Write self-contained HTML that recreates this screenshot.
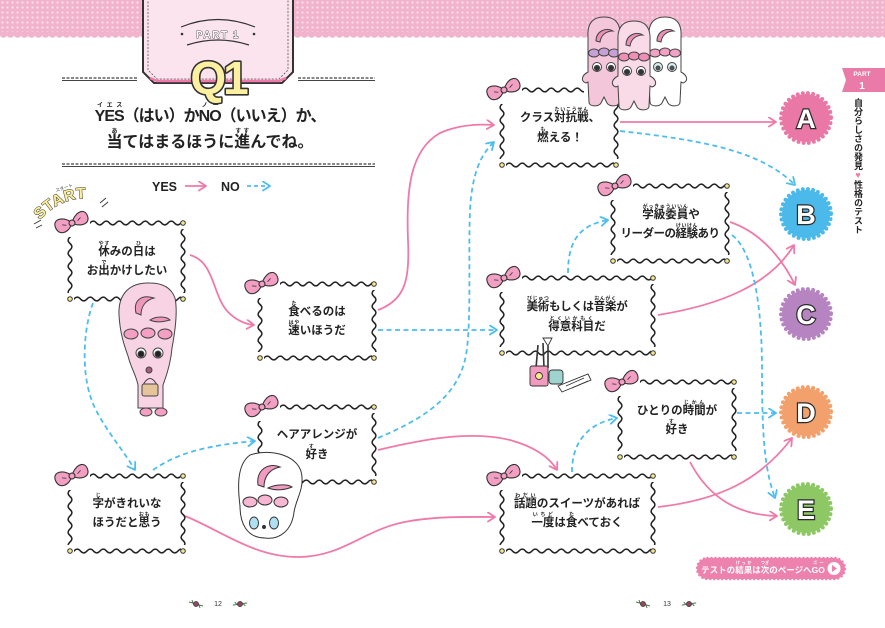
<!DOCTYPE html>
<html><head><meta charset="utf-8">
<style>
html,body{margin:0;padding:0;background:#fff;}
#c{position:relative;width:885px;height:628px;overflow:hidden;background:#fff;}
svg{position:absolute;left:0;top:0;}
.t{position:absolute;width:200px;height:24px;text-align:center;font-weight:bold;font-size:11.5px;line-height:24px;font-family:"Liberation Sans","Noto Sans CJK JP",sans-serif;color:#222;white-space:nowrap;}
rt{font-size:5px;line-height:1;font-weight:bold;}
.ttl{position:absolute;left:40px;width:340px;height:28px;text-align:center;font-weight:bold;font-size:16px;line-height:28px;font-family:"Liberation Sans","Noto Sans CJK JP",sans-serif;color:#222;white-space:nowrap;}
.ttl rt{font-size:6px;}
.side{position:absolute;left:850px;top:98px;width:16px;writing-mode:vertical-rl;font-weight:bold;font-size:9px;line-height:16px;font-family:"Liberation Sans","Noto Sans CJK JP",sans-serif;color:#222;white-space:nowrap;}
.go{position:absolute;left:699px;top:560px;width:128px;height:18px;text-align:center;font-weight:bold;font-size:8.5px;line-height:18px;font-family:"Liberation Sans","Noto Sans CJK JP",sans-serif;color:#fff;white-space:nowrap;}
.go rt{font-size:4px;}
</style></head><body><div id="c">
<svg width="885" height="628" viewBox="0 0 885 628" xmlns="http://www.w3.org/2000/svg" font-family="Liberation Sans, Noto Sans CJK JP, sans-serif">
<defs>
<pattern id="dots" width="5" height="5" patternUnits="userSpaceOnUse"><rect width="5" height="5" fill="#f2b3cc"/><circle cx="2.5" cy="2.5" r="1.1" fill="#fbe2ec"/></pattern>
<pattern id="scal" width="7" height="8" patternUnits="userSpaceOnUse"><circle cx="3.5" cy="2" r="3.8" fill="#f2b3cc"/></pattern>
<pattern id="wh" width="13" height="10" patternUnits="userSpaceOnUse"><path d="M-6.5 5 Q-3.25 8.8 0 5 Q3.25 1.2 6.5 5 Q9.75 8.8 13 5 Q16.25 1.2 19.5 5" fill="none" stroke="#222" stroke-width="1.5"/></pattern>
<pattern id="wv" width="10" height="13" patternUnits="userSpaceOnUse"><path d="M5 -6.5 Q8.8 -3.25 5 0 Q1.2 3.25 5 6.5 Q8.8 9.75 5 13 Q1.2 16.25 5 19.5" fill="none" stroke="#222" stroke-width="1.5"/></pattern>
<marker id="ap" markerWidth="12" markerHeight="12" refX="8" refY="5" orient="auto" markerUnits="userSpaceOnUse"><path d="M1 0.5 L8 5 L1 9.5" fill="none" stroke="#ef7aa9" stroke-width="1.8" stroke-linecap="round" stroke-linejoin="round"/></marker>
<marker id="ab" markerWidth="12" markerHeight="12" refX="8" refY="5" orient="auto" markerUnits="userSpaceOnUse"><path d="M1 0.5 L8 5 L1 9.5" fill="none" stroke="#4dbdec" stroke-width="1.8" stroke-linecap="round" stroke-linejoin="round"/></marker>
<g id="bow" transform="rotate(-22)">
<path d="M0 0 C-4 -9 -17 -12 -17 -2 C-17 8 -6 8 0 0 Z" fill="#f39ec3" stroke="#333" stroke-width="1.1"/>
<path d="M0 0 C5 -8 17 -11 17 -1 C17 8 6 7 0 0 Z" fill="#f39ec3" stroke="#333" stroke-width="1.1"/>
<path d="M-10 -2 L-6 0 M10 -2 L6 0" stroke="#333" stroke-width="0.8"/>
<circle r="3" fill="#f39ec3" stroke="#333" stroke-width="1.1"/>
</g>
<g id="rose"><path d="M-7 -2 L7 2 M-4 -4 L-3 -1 M4 4 L3 1" stroke="#4a7a4a" stroke-width="1"/><circle r="2.6" fill="#8b4a62" stroke="#3a2a2a" stroke-width="0.6"/></g>
</defs>

<!-- header band -->
<rect x="0" y="0" width="885" height="33" fill="url(#dots)"/>
<rect x="0" y="31" width="885" height="8" fill="url(#scal)"/>

<!-- PART panel -->
<path d="M143 -2 L143 72 L154 83 L282 83 L293 72 L293 -2 Z" fill="#fbe4ee" stroke="#333" stroke-width="2"/>
<path d="M148 -2 L148 70 L157 79 L279 79 L288 70 L288 -2" fill="none" stroke="#555" stroke-width="0.8" stroke-dasharray="2 1.5"/>
<path d="M150 78 L157 81 L279 81 L286 78" fill="none" stroke="#ef7aa9" stroke-width="2.5"/>
<path d="M181 27 Q218 12 255 27" fill="none" stroke="#333" stroke-width="1.2"/>
<path d="M187 45 Q218 35 249 45" fill="none" stroke="#333" stroke-width="1.2"/>
<circle cx="182" cy="34" r="1.3" fill="#333"/><circle cx="254" cy="34" r="1.3" fill="#333"/>
<text x="218" y="38" text-anchor="middle" font-size="10" font-weight="bold" fill="#fff" stroke="#333" stroke-width="0.8" letter-spacing="1.5" paint-order="stroke">PART 1</text>
<text x="218" y="94" text-anchor="middle" font-size="46" font-weight="bold" fill="#fdf0a0" stroke="#333" stroke-width="3.2" stroke-linejoin="round" paint-order="stroke" letter-spacing="-3">Q1</text>

<!-- separators -->
<g stroke-width="2">
<line x1="62" y1="78" x2="137" y2="78" stroke="#888" stroke-dasharray="3 1.5"/>
<line x1="298" y1="78" x2="375" y2="78" stroke="#888" stroke-dasharray="3 1.5"/>
<line x1="62" y1="164" x2="375" y2="164" stroke="#888" stroke-dasharray="3 1.5"/>
</g>
<g stroke-width="0.9" stroke="#444">
<line x1="62" y1="80.5" x2="137" y2="80.5"/><line x1="298" y1="80.5" x2="375" y2="80.5"/><line x1="62" y1="166.5" x2="375" y2="166.5"/>
</g>

<!-- legend -->
<text x="152" y="191" font-size="12.5" font-weight="bold" fill="#222">YES</text>
<path d="M185 186 L206 186" stroke="#ef7aa9" stroke-width="1.8" marker-end="url(#ap)"/>
<text x="221" y="191" font-size="12.5" font-weight="bold" fill="#222">NO</text>
<path d="M247 186 L270 186" stroke="#4dbdec" stroke-width="1.8" stroke-dasharray="4 3" marker-end="url(#ab)"/>

<!-- START -->
<path id="sarc" d="M40 220 Q64 192 104 200" fill="none"/>
<text font-size="15.5" font-weight="bold" fill="#fbee96" stroke="#333" stroke-width="1" paint-order="stroke" letter-spacing="0.5"><textPath href="#sarc">START</textPath></text>
<text x="56" y="192" font-size="4.5" fill="#333" transform="rotate(-18 56 192)">スタート</text>
<path d="M34 224 L41 220 M36 228 L42 225 M100 203 L106 198 M102 207 L108 202" stroke="#333" stroke-width="0.9"/>

<!-- YES connectors -->
<g fill="none" stroke="#ef7aa9" stroke-width="1.8" marker-end="url(#ap)">
<path d="M190 255 C215 262 212 295 228 312 C236 320 244 324 254 325"/>
<path d="M378 310 C405 300 410 280 408 240 C406 190 410 150 440 133 C460 124 480 124 494 125"/>
<path d="M378 450 C420 440 470 430 510 440 C535 447 550 458 557 470"/>
<path d="M185 516 C220 530 255 558 300 557 C345 556 365 528 410 521 C440 516 470 517 495 517"/>
<path d="M620 122 L776 122"/>
<path d="M730 222 C760 232 782 258 795 285"/>
<path d="M658 315 C720 305 770 285 794 245"/>
<path d="M690 462 C710 500 740 515 777 516"/>
<path d="M658 507 C720 500 760 480 792 438"/>
</g>
<!-- NO connectors -->
<g fill="none" stroke="#4dbdec" stroke-width="1.8" stroke-dasharray="5 3.5" marker-end="url(#ab)">
<path d="M93 303 C83 330 82 370 90 395 C97 420 120 445 135 470"/>
<path d="M153 470 C175 455 200 446 255 441"/>
<path d="M378 330 L497 330"/>
<path d="M378 438 C420 420 455 400 465 360 C472 330 468 260 470 210 C472 175 480 155 494 142"/>
<path d="M620 131 C700 140 760 150 795 185"/>
<path d="M732 235 C752 250 762 300 762 370 C762 440 765 470 775 498"/>
<path d="M568 273 C568 240 580 225 608 220"/>
<path d="M737 413 L776 413"/>
<path d="M572 472 C572 440 590 423 617 418"/>
</g>

<!-- boxes -->
<g transform="translate(70,223)">
<rect x="2" y="2" width="109" height="72" fill="#fff"/>
<g transform="translate(20,-5)"><rect width="91" height="10" fill="url(#wh)"/></g>
<g transform="translate(4,71)"><rect width="107" height="10" fill="url(#wh)"/></g>
<g transform="translate(-5,14)"><rect width="10" height="56" fill="url(#wv)"/></g>
<g transform="translate(108,6)"><rect width="10" height="64" fill="url(#wv)"/></g>
<g fill="#f7ea8c" stroke="#333" stroke-width="1"><circle cx="113" cy="0" r="2.3"/><circle cx="0" cy="76" r="2.3"/><circle cx="113" cy="76" r="2.3"/></g>
<use href="#bow" x="2" y="0"/>
</g>
<g transform="translate(260,284)">
<rect x="2" y="2" width="110" height="70" fill="#fff"/>
<g transform="translate(20,-5)"><rect width="92" height="10" fill="url(#wh)"/></g>
<g transform="translate(4,69)"><rect width="108" height="10" fill="url(#wh)"/></g>
<g transform="translate(-5,14)"><rect width="10" height="54" fill="url(#wv)"/></g>
<g transform="translate(109,6)"><rect width="10" height="62" fill="url(#wv)"/></g>
<g fill="#f7ea8c" stroke="#333" stroke-width="1"><circle cx="114" cy="0" r="2.3"/><circle cx="0" cy="74" r="2.3"/><circle cx="114" cy="74" r="2.3"/></g>
<use href="#bow" x="2" y="0"/>
</g>
<g transform="translate(260,407)">
<rect x="2" y="2" width="110" height="71" fill="#fff"/>
<g transform="translate(20,-5)"><rect width="92" height="10" fill="url(#wh)"/></g>
<g transform="translate(4,70)"><rect width="108" height="10" fill="url(#wh)"/></g>
<g transform="translate(-5,14)"><rect width="10" height="55" fill="url(#wv)"/></g>
<g transform="translate(109,6)"><rect width="10" height="63" fill="url(#wv)"/></g>
<g fill="#f7ea8c" stroke="#333" stroke-width="1"><circle cx="114" cy="0" r="2.3"/><circle cx="114" cy="75" r="2.3"/></g>
<use href="#bow" x="2" y="0"/>
</g>
<g transform="translate(70,476)">
<rect x="2" y="2" width="109" height="71" fill="#fff"/>
<g transform="translate(20,-5)"><rect width="91" height="10" fill="url(#wh)"/></g>
<g transform="translate(4,70)"><rect width="107" height="10" fill="url(#wh)"/></g>
<g transform="translate(-5,14)"><rect width="10" height="55" fill="url(#wv)"/></g>
<g transform="translate(108,6)"><rect width="10" height="63" fill="url(#wv)"/></g>
<g fill="#f7ea8c" stroke="#333" stroke-width="1"><circle cx="113" cy="0" r="2.3"/><circle cx="0" cy="75" r="2.3"/><circle cx="113" cy="75" r="2.3"/></g>
<use href="#bow" x="2" y="0"/>
</g>
<g transform="translate(502,90)">
<rect x="2" y="2" width="110" height="71" fill="#fff"/>
<g transform="translate(20,-5)"><rect width="62" height="10" fill="url(#wh)"/></g>
<g transform="translate(4,70)"><rect width="108" height="10" fill="url(#wh)"/></g>
<g transform="translate(-5,14)"><rect width="10" height="55" fill="url(#wv)"/></g>
<g transform="translate(109,6)"><rect width="10" height="63" fill="url(#wv)"/></g>
<g fill="#f7ea8c" stroke="#333" stroke-width="1"><circle cx="0" cy="75" r="2.3"/><circle cx="114" cy="75" r="2.3"/></g>
<use href="#bow" x="2" y="0"/>
</g>
<g transform="translate(613,186)">
<rect x="2" y="2" width="110" height="71" fill="#fff"/>
<g transform="translate(20,-5)"><rect width="92" height="10" fill="url(#wh)"/></g>
<g transform="translate(4,70)"><rect width="108" height="10" fill="url(#wh)"/></g>
<g transform="translate(-5,14)"><rect width="10" height="55" fill="url(#wv)"/></g>
<g transform="translate(109,6)"><rect width="10" height="63" fill="url(#wv)"/></g>
<g fill="#f7ea8c" stroke="#333" stroke-width="1"><circle cx="114" cy="0" r="2.3"/><circle cx="0" cy="75" r="2.3"/><circle cx="114" cy="75" r="2.3"/></g>
<use href="#bow" x="2" y="0"/>
</g>
<g transform="translate(502,278)">
<rect x="2" y="2" width="147" height="71" fill="#fff"/>
<g transform="translate(20,-5)"><rect width="129" height="10" fill="url(#wh)"/></g>
<g transform="translate(4,70)"><rect width="145" height="10" fill="url(#wh)"/></g>
<g transform="translate(-5,14)"><rect width="10" height="55" fill="url(#wv)"/></g>
<g transform="translate(146,6)"><rect width="10" height="63" fill="url(#wv)"/></g>
<g fill="#f7ea8c" stroke="#333" stroke-width="1"><circle cx="151" cy="0" r="2.3"/><circle cx="0" cy="75" r="2.3"/><circle cx="151" cy="75" r="2.3"/></g>
<use href="#bow" x="2" y="0"/>
</g>
<g transform="translate(620,382)">
<rect x="2" y="2" width="110" height="71" fill="#fff"/>
<g transform="translate(20,-5)"><rect width="92" height="10" fill="url(#wh)"/></g>
<g transform="translate(4,70)"><rect width="108" height="10" fill="url(#wh)"/></g>
<g transform="translate(-5,14)"><rect width="10" height="55" fill="url(#wv)"/></g>
<g transform="translate(109,6)"><rect width="10" height="63" fill="url(#wv)"/></g>
<g fill="#f7ea8c" stroke="#333" stroke-width="1"><circle cx="114" cy="0" r="2.3"/><circle cx="0" cy="75" r="2.3"/><circle cx="114" cy="75" r="2.3"/></g>
<use href="#bow" x="2" y="0"/>
</g>
<g transform="translate(502,476)">
<rect x="2" y="2" width="147" height="71" fill="#fff"/>
<g transform="translate(20,-5)"><rect width="129" height="10" fill="url(#wh)"/></g>
<g transform="translate(4,70)"><rect width="145" height="10" fill="url(#wh)"/></g>
<g transform="translate(-5,14)"><rect width="10" height="55" fill="url(#wv)"/></g>
<g transform="translate(146,6)"><rect width="10" height="63" fill="url(#wv)"/></g>
<g fill="#f7ea8c" stroke="#333" stroke-width="1"><circle cx="151" cy="0" r="2.3"/><circle cx="0" cy="75" r="2.3"/><circle cx="151" cy="75" r="2.3"/></g>
<use href="#bow" x="2" y="0"/>
</g>

<!-- character 1 -->
<g stroke="#444" stroke-width="1">
<path d="M150 283 C128 282 118 296 119 315 C120 333 124 345 128 356 C131 368 136 375 138 385 L138 408 L163 408 L163 385 C168 372 171 360 172 348 C175 332 178 312 175 298 C171 287 162 283 150 283 Z" fill="#f8d3e3"/>
<path d="M136 313 C133 300 142 294 154 298 C146 300 141 306 141 315 Z" fill="#ef96bb"/>
<path d="M150 320 C156 316 166 316 170 320 C163 322 156 323 150 320 Z" fill="#ef96bb"/>
<ellipse cx="131" cy="334" rx="7" ry="5" fill="#f3a0c4"/>
<ellipse cx="148" cy="333" rx="7" ry="5" fill="#f3a0c4"/>
<ellipse cx="165" cy="334" rx="7" ry="5" fill="#f3a0c4"/>
<circle cx="141" cy="353" r="5" fill="#fff"/><circle cx="158" cy="353" r="5" fill="#fff"/>
<circle cx="141" cy="354" r="3" fill="#222"/><circle cx="158" cy="354" r="3" fill="#222"/>
<circle cx="149" cy="370" r="3" fill="#a0607a"/>
<path d="M143 385 Q150 372 157 385" fill="none"/>
<rect x="142" y="384" width="16" height="12" rx="2" fill="#e6c49a"/>
<ellipse cx="146" cy="412" rx="6" ry="4" fill="#f3a0c4"/>
<ellipse cx="161" cy="412" rx="6" ry="4" fill="#f3a0c4"/>
</g>

<!-- character 2 face -->
<g stroke="#333" stroke-width="1">
<path d="M250 455 C270 448 302 455 302 478 C303 490 296 500 294 512 C292 530 280 540 265 538 C246 538 240 522 240 506 C238 490 236 465 250 455 Z" fill="#fff"/>
<path d="M258 485 C256 470 268 462 280 467 C270 469 264 476 264 487 Z" fill="#f29ac0"/>
<path d="M268 488 C276 484 288 484 292 487 C285 490 276 491 268 488 Z" fill="#f29ac0"/>
<ellipse cx="250" cy="502" rx="7" ry="5" fill="#f7b6d1"/>
<ellipse cx="265" cy="500" rx="7" ry="5" fill="#f7b6d1"/>
<ellipse cx="281" cy="502" rx="7" ry="5" fill="#f7b6d1"/>
<ellipse cx="254" cy="523" rx="4.5" ry="6" fill="#aee0f2"/>
<ellipse cx="274" cy="523" rx="4.5" ry="6" fill="#aee0f2"/>
<circle cx="264" cy="527" r="1.5" fill="#333"/>
</g>

<!-- top characters -->
<g stroke="#444" stroke-width="1">
<g transform="translate(604,17)">
<path d="M-16 20 C-17 5 -10 0 0 0 C10 0 17 5 16 20 L16 55 C22 58 24 64 18 66 L16 65 L15 85 C15 90 5 90 3 86 L0 80 L-3 86 C-5 90 -15 90 -15 85 L-16 65 L-18 66 C-24 64 -22 58 -16 55 Z" fill="#f4c6da"/>
<path d="M-8 24 C-8 14 2 10 9 14 C2 14 -3 18 -4 25 Z" fill="#ee8fb6"/>
<ellipse cx="-10" cy="36" rx="5.5" ry="4" fill="#c8a0d8"/><ellipse cx="0" cy="35" rx="5.5" ry="4" fill="#c8a0d8"/><ellipse cx="10" cy="36" rx="5.5" ry="4" fill="#c8a0d8"/>
<circle cx="-7" cy="50" r="4.5" fill="#fff"/><circle cx="7" cy="50" r="4.5" fill="#fff"/><circle cx="-7" cy="51" r="2.6" fill="#333"/><circle cx="7" cy="51" r="2.6" fill="#333"/>
</g>
<g transform="translate(665,17)">
<path d="M-16 20 C-17 5 -10 0 0 0 C10 0 17 5 16 20 L16 55 C22 58 24 64 18 66 L16 65 L15 85 C15 90 5 90 3 86 L0 80 L-3 86 C-5 90 -15 90 -15 85 L-16 65 L-18 66 C-24 64 -22 58 -16 55 Z" fill="#fff"/>
<path d="M-8 24 C-8 14 2 10 9 14 C2 14 -3 18 -4 25 Z" fill="#ee8fb6"/>
<ellipse cx="-10" cy="36" rx="5.5" ry="4" fill="#f2a3c5"/><ellipse cx="0" cy="35" rx="5.5" ry="4" fill="#f2a3c5"/><ellipse cx="10" cy="36" rx="5.5" ry="4" fill="#f2a3c5"/>
<circle cx="-7" cy="50" r="4.5" fill="#d6eef2"/><circle cx="7" cy="50" r="4.5" fill="#d6eef2"/><circle cx="-7" cy="51" r="2" fill="#555"/><circle cx="7" cy="51" r="2" fill="#555"/>
</g>
<g transform="translate(634,21)">
<path d="M-16 20 C-17 5 -10 0 0 0 C10 0 17 5 16 20 L16 55 C22 58 24 64 18 66 L16 65 L15 85 C15 90 5 90 3 86 L0 80 L-3 86 C-5 90 -15 90 -15 85 L-16 65 L-18 66 C-24 64 -22 58 -16 55 Z" fill="#f8dbe7"/>
<path d="M-8 24 C-8 14 2 10 9 14 C2 14 -3 18 -4 25 Z" fill="#ee8fb6"/>
<ellipse cx="-10" cy="36" rx="5.5" ry="4" fill="#ef8fb7"/><ellipse cx="0" cy="35" rx="5.5" ry="4" fill="#ef8fb7"/><ellipse cx="10" cy="36" rx="5.5" ry="4" fill="#ef8fb7"/>
<circle cx="-7" cy="50" r="4.5" fill="#fff"/><circle cx="7" cy="50" r="4.5" fill="#fff"/><circle cx="-7" cy="51" r="2.6" fill="#333"/><circle cx="7" cy="51" r="2.6" fill="#333"/>
</g>
</g>

<!-- art supplies -->
<g stroke="#333" stroke-width="0.9">
<path d="M538 345 L536 368 M543 343 L544 368 M548 346 L548 368" stroke-width="1.6"/>
<path d="M548 346 L543 338 L552 338 Z" fill="#fff"/>
<rect x="530" y="366" width="18" height="20" rx="2" fill="#f29ac0"/>
<circle cx="539" cy="376" r="3.5" fill="#f7ea8c"/>
<rect x="549" y="370" width="14" height="14" rx="3" fill="#9fd3cf"/>
<path d="M558 386 L588 374 L591 380 L562 392 Z" fill="#fff"/>
<path d="M566 386 L584 378 M572 388 L588 381" stroke-width="0.8"/>
</g>

<!-- result circles -->
<g>
<circle cx="806" cy="118" r="24" fill="#ea78a6"/><circle cx="806" cy="118" r="25" fill="none" stroke="#ea78a6" stroke-width="4" stroke-dasharray="0 5.2" stroke-linecap="round"/>
<circle cx="806" cy="214" r="24" fill="#4bb9ea"/><circle cx="806" cy="214" r="25" fill="none" stroke="#4bb9ea" stroke-width="4" stroke-dasharray="0 5.2" stroke-linecap="round"/>
<circle cx="806" cy="314" r="24" fill="#b784c2"/><circle cx="806" cy="314" r="25" fill="none" stroke="#b784c2" stroke-width="4" stroke-dasharray="0 5.2" stroke-linecap="round"/>
<circle cx="806" cy="412" r="24" fill="#f2a06c"/><circle cx="806" cy="412" r="25" fill="none" stroke="#f2a06c" stroke-width="4" stroke-dasharray="0 5.2" stroke-linecap="round"/>
<circle cx="806" cy="509" r="24" fill="#8dc865"/><circle cx="806" cy="509" r="25" fill="none" stroke="#8dc865" stroke-width="4" stroke-dasharray="0 5.2" stroke-linecap="round"/>
</g>
<g font-size="27" font-weight="bold" fill="#fff" stroke="#2a2a2a" stroke-width="2.4" paint-order="stroke" text-anchor="middle">
<text x="806" y="128">A</text><text x="806" y="224">B</text><text x="806" y="324">C</text><text x="806" y="422">D</text><text x="806" y="519">E</text>
</g>

<!-- sidebar tab -->
<path d="M842 68 L885 68 L885 92 L842 92 L846 80 Z" fill="#ea7aa7"/>
<text x="862" y="76" text-anchor="middle" font-size="6.5" font-weight="bold" fill="#fff">PART</text>
<text x="862" y="89" text-anchor="middle" font-size="10" font-weight="bold" fill="#fff">1</text>

<!-- GO button -->
<rect x="697" y="558" width="148" height="21" rx="10.5" fill="#ec82ad"/>
<rect x="697" y="558" width="148" height="21" rx="10.5" fill="none" stroke="#ec82ad" stroke-width="2.5" stroke-dasharray="0 4" stroke-linecap="round"/>
<circle cx="834" cy="568.5" r="6.5" fill="#fff"/>
<path d="M832 565 L837 568.5 L832 572 Z" fill="#ec82ad"/>

<!-- page numbers -->
<text x="218" y="606" text-anchor="middle" font-size="7" fill="#333">12</text>
<text x="667" y="606" text-anchor="middle" font-size="7" fill="#333">13</text>
<use href="#rose" x="196" y="604"/><use href="#rose" x="240" y="604" transform="rotate(-25 240 604)"/>
<use href="#rose" x="643" y="604"/><use href="#rose" x="689" y="604" transform="rotate(-25 689 604)"/>
</svg>

<!-- title -->
<div class="ttl" style="top:103px;letter-spacing:-1px;"><ruby>YES<rt>イエス</rt></ruby>（はい）か<ruby>NO<rt>ノー</rt></ruby>（いいえ）か、</div>
<div class="ttl" style="top:129px;"><ruby>当<rt>あ</rt></ruby>てはまるほうに<ruby>進<rt>すす</rt></ruby>んでね。</div>

<!-- box texts -->
<div class="t" style="left:27px;top:240px;"><ruby>休<rt>やす</rt></ruby>みの<ruby>日<rt>ひ</rt></ruby>は</div>
<div class="t" style="left:27px;top:259px;">お<ruby>出<rt>で</rt></ruby>かけしたい</div>

<div class="t" style="left:217px;top:300px;"><ruby>食<rt>た</rt></ruby>べるのは</div>
<div class="t" style="left:217px;top:319px;"><ruby>速<rt>はや</rt></ruby>いほうだ</div>

<div class="t" style="left:217px;top:423px;">ヘアアレンジが</div>
<div class="t" style="left:217px;top:443px;"><ruby>好<rt>す</rt></ruby>き</div>

<div class="t" style="left:27px;top:492px;"><ruby>字<rt>じ</rt></ruby>がきれいな</div>
<div class="t" style="left:27px;top:511px;">ほうだと<ruby>思<rt>おも</rt></ruby>う</div>

<div class="t" style="left:460px;top:106px;">クラス<ruby>対抗戦<rt>たいこうせん</rt></ruby>、</div>
<div class="t" style="left:460px;top:126px;"><ruby>燃<rt>も</rt></ruby>える！</div>

<div class="t" style="left:571px;top:203px;"><ruby>学級委員<rt>がっきゅういいん</rt></ruby>や</div>
<div class="t" style="left:570px;top:222px;letter-spacing:-0.5px;">リーダーの<ruby>経験<rt>けいけん</rt></ruby>あり</div>

<div class="t" style="left:477px;top:295px;letter-spacing:-0.3px;"><ruby>美術<rt>びじゅつ</rt></ruby>もしくは<ruby>音楽<rt>おんがく</rt></ruby>が</div>
<div class="t" style="left:477px;top:315px;"><ruby>得意科目<rt>とくいかもく</rt></ruby>だ</div>

<div class="t" style="left:577px;top:399px;">ひとりの<ruby>時間<rt>じかん</rt></ruby>が</div>
<div class="t" style="left:577px;top:418px;"><ruby>好<rt>す</rt></ruby>き</div>

<div class="t" style="left:477px;top:492px;"><ruby>話題<rt>わだい</rt></ruby>のスイーツがあれば</div>
<div class="t" style="left:477px;top:511px;"><ruby>一度<rt>いちど</rt></ruby>は<ruby>食<rt>た</rt></ruby>べておく</div>

<!-- sidebar vertical text -->
<div class="side">自分らしさの発見<span style="color:#ef7aa9">♥</span>性格のテスト</div>

<!-- GO text -->
<div class="go">テストの<ruby>結果<rt>けっか</rt></ruby>は<ruby>次<rt>つぎ</rt></ruby>のページへ<ruby>GO<rt>ゴー</rt></ruby></div>
</div></body></html>
